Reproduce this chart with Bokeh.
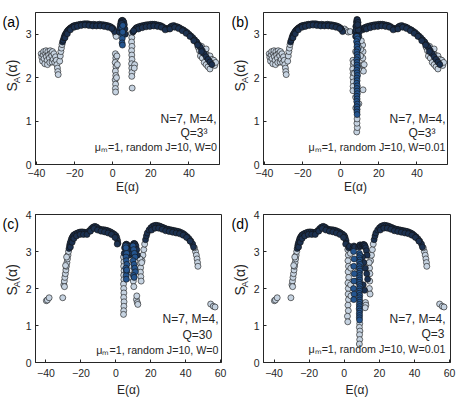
import math
from bokeh.plotting import figure
from bokeh.models import Range1d, FixedTicker, Label
from bokeh.layouts import row, column
from bokeh.embed import file_html
from bokeh.resources import INLINE

# ---------------- data (E(alpha), S_A(alpha)) ----------------
# shared by (a) and (b): N=7, M=4, Q=3^3
AB_LIGHT = [(-37.5,2.55),(-37.2,2.47),(-36.8,2.38),(-36.5,2.52),(-36.2,2.60),(-36.0,2.44),(-35.6,2.32),
            (-35.2,2.56),(-35.0,2.62),(-34.8,2.48),(-34.4,2.40),(-34.2,2.30),(-34.0,2.60),(-33.6,2.52),
            (-33.2,2.45),(-33.0,2.35),(-32.8,2.62),(-32.4,2.56),(-32.0,2.50),(-31.8,2.36),(-31.6,2.60),
            (-31.2,2.42),(-30.8,2.55),(-30.4,2.35),(-30.0,2.48),(-29.6,2.40),(-29.3,2.30),(-29.0,2.22),
            (-28.8,2.14),(-28.6,2.07),(-27.8,2.38),(-27.5,2.50),(-27.2,2.60),(-26.9,2.68),(-26.6,2.76),
            (44.0,2.82),(44.8,2.70),(45.5,2.62),(46.0,2.50),(46.6,2.72),(47.0,2.45),(47.5,2.58),
            (48.0,2.35),(48.5,2.62),(49.0,2.30),(49.0,2.66),(49.5,2.52),(50.0,2.25),(50.5,2.45),
            (51.0,2.20),(51.0,2.50),(51.5,2.38),(52.0,2.42),(52.5,2.30),(53.0,2.40),(53.5,2.28),(54.0,2.35)]
AB_DARK = [(-26.3,2.82),(-26.0,2.86),(-25.6,2.92),(-25.2,2.97),(-24.8,3.00),(-24.4,3.03),(-24.0,3.06),
           (-23.5,3.09),(-23.0,3.11),(-22.5,3.13),(-22.0,3.15),(-21.5,3.16),(-21.0,3.18),(-20.5,3.19),
           (-20.0,3.20),(-19.0,3.21),(-18.0,3.22),(-17.0,3.23),(-16.0,3.23),(-15.0,3.24),(-14.0,3.24),
           (-13.0,3.24),(-12.0,3.23),(-11.0,3.22),(-10.0,3.23),(-9.0,3.22),(-8.0,3.22),(-7.0,3.23),
           (-6.0,3.22),(-5.0,3.22),(-4.0,3.21),(-3.0,3.20),(-2.0,3.19),(-1.0,3.17),(0.0,3.14),
           (0.5,3.10),(1.0,3.06),(-25.0,2.92),(-23.8,3.01),(-22.2,3.10),(-20.2,3.16),(-18.5,3.18),
           (-16.5,3.20),(-14.5,3.21),(-12.5,3.20),(-10.5,3.19),(-8.5,3.19),(-6.5,3.19),(-4.5,3.18),
           (-2.5,3.16),(-0.5,3.13),
           (11.5,3.10),(12.0,3.13),(12.5,3.15),(13.0,3.16),(14.0,3.18),(15.0,3.19),(16.0,3.20),
           (17.0,3.21),(18.0,3.22),(19.0,3.22),(20.0,3.23),(21.0,3.23),(22.0,3.23),(23.0,3.22),
           (24.0,3.21),(25.0,3.20),(26.0,3.18),(27.0,3.15),(28.0,3.13),(28.8,3.12),(29.5,3.14),
           (30.3,3.17),(31.0,3.19),(32.0,3.20),(33.0,3.18),(34.0,3.17),(35.0,3.15),(36.0,3.12),
           (37.0,3.10),(38.0,3.07),(39.0,3.04),(40.0,3.00),(41.0,2.96),(42.0,2.92),(43.0,2.87),
           (44.0,2.82),(45.0,2.76),(46.0,2.70),(47.0,2.62),(48.0,2.55),(49.0,2.48),(50.0,2.42),
           (51.0,2.36),(52.0,2.30),(13.5,3.12),(15.5,3.15),(17.5,3.17),(19.5,3.18),(21.5,3.19),
           (23.5,3.18),(25.5,3.16),(27.5,3.10),(30.0,3.12),(32.5,3.16),(34.5,3.13),(36.5,3.08),
           (38.5,3.02),(40.5,2.95),(42.5,2.85),(44.5,2.75),(46.5,2.60)]

# (a) W=0 centre
A_LIGHT = [(1.5,3.00),(1.8,2.95),(1.4,2.55),(1.6,2.45),(1.3,2.35),(1.7,2.25),(1.4,2.15),(1.6,2.05),
           (1.3,1.95),(1.5,1.85),(1.4,1.75),(1.5,1.67),(2.2,2.50),(2.4,2.30),(2.0,2.00),(9.8,3.02),
           (10.0,2.92),(9.9,2.82),(10.1,2.72),(9.9,2.62),(10.0,2.52),(10.1,2.42),(9.9,2.32),(10.0,2.22),
           (10.1,2.12),(10.0,2.03),(10.2,1.76),(11.5,2.30),(11.3,2.22)]
A_DARK = [(3.5,3.05),(3.8,3.15),(4.0,3.22),(4.3,3.28),(4.6,3.31),(5.0,3.32),(5.4,3.31),(5.8,3.28),
          (6.1,3.22),(6.4,3.12),(6.6,3.00),(4.7,3.25),(10.6,3.05),(11.0,3.08)]
A_BLUE = [(4.8,3.15),(5.0,3.00),(5.0,2.90),(4.9,2.80),(5.1,2.75),(5.2,3.05),(5.3,3.20)]

# (b) W=0.01 centre
B_LIGHT = [(2.0,3.12),(3.0,3.08),(4.0,3.05),(5.0,3.06),(6.4,2.40),(6.6,2.30),(6.3,2.20),(6.5,2.10),
           (6.4,2.00),(6.6,1.90),(6.5,1.80),(6.4,1.70),(7.0,2.35),(7.2,2.10),(11.5,2.75),(11.7,2.60),
           (11.6,2.45),(11.8,2.30),(11.9,2.15),(12.3,2.30),(11.7,1.72),(10.8,2.85),(10.5,2.65),
           (10.4,2.50),(8.4,0.75),(8.7,0.85),(8.5,0.95),(8.6,1.05),(7.8,2.60),(7.8,1.55),(9.4,2.20),
           (9.5,1.40),(7.9,1.30),(9.3,2.70)]
B_DARK = [(7.6,3.05),(7.9,3.18),(8.2,3.28),(8.5,3.34),(8.8,3.33),(9.1,3.27),(9.4,3.17),(9.7,3.05),
          (8.0,3.10),(9.2,3.10),(8.3,3.20),(8.9,3.22),(7.8,2.95),(9.5,2.95)]
B_BLUE = [(8.5,2.95),(8.8,2.89),(8.3,2.83),(8.7,2.77),(8.5,2.71),(8.9,2.65),(8.4,2.59),(8.6,2.53),
          (8.8,2.47),(8.4,2.41),(8.6,2.35),(8.5,2.29),(8.7,2.23),(8.4,2.17),(8.6,2.11),(8.8,2.05),
          (8.5,1.99),(8.6,1.93),(8.4,1.87),(8.7,1.81),(8.5,1.75),(8.6,1.69),(8.7,1.63),(8.5,1.57),
          (8.6,1.51),(8.4,1.45),(8.7,1.39),(8.5,1.33),(8.6,1.27),(8.5,1.21),(8.6,1.15)]

# shared by (c) and (d): N=7, M=4, Q=30 / Q=3
CD_LIGHT = [(-39.8,1.67),(-39.2,1.69),(-38.2,1.75),(-30.4,1.75),(54.3,1.58),(55.8,1.52),(56.8,1.50),
            (-29.8,2.10),(-29.5,2.20),(-29.2,2.30),(-28.9,2.40),(-28.6,2.50),(-28.3,2.60),(-28.0,2.70),
            (-27.7,2.80),(-27.4,2.90),(-27.1,3.00),(-29.4,2.05),(-28.8,2.62),(-28.2,2.85),
            (15.0,2.75),(15.5,2.90),(16.0,3.05),(16.5,3.20),(45.6,3.00),(46.1,2.90),(46.5,2.80),
            (46.8,2.70),(47.0,2.60),(45.0,3.10)]
CD_DARK = [(-26.8,3.08),(-26.5,3.16),(-26.2,3.22),(-25.8,3.28),(-25.4,3.34),(-25.0,3.38),(-24.5,3.42),
           (-24.0,3.45),(-23.0,3.48),(-22.0,3.50),(-21.0,3.52),(-20.0,3.53),(-19.0,3.53),(-18.0,3.52),
           (-17.0,3.51),(-16.0,3.53),(-15.0,3.57),(-14.0,3.62),(-13.0,3.66),(-12.0,3.68),(-11.0,3.66),
           (-10.0,3.62),(-9.0,3.60),(-8.0,3.59),(-7.0,3.59),(-6.0,3.58),(-5.0,3.57),(-4.0,3.55),
           (-3.0,3.53),(-2.0,3.50),(-1.0,3.47),(0.0,3.43),(0.5,3.38),(1.0,3.30),(1.2,3.22),
           (-26.0,3.12),(-25.0,3.25),(-24.0,3.35),(-22.5,3.42),(-20.5,3.46),(-18.5,3.46),(-16.5,3.46),
           (-14.5,3.55),(-12.5,3.62),(-10.5,3.58),(-8.5,3.55),(-6.5,3.53),(-4.5,3.50),(-2.5,3.46),
           (-0.5,3.38),(0.8,3.20),
           (17.0,3.32),(17.5,3.42),(18.0,3.50),(19.0,3.58),(20.0,3.64),(21.0,3.68),(22.0,3.70),
           (23.0,3.71),(24.0,3.70),(25.0,3.69),(26.0,3.67),(27.0,3.65),(28.0,3.63),(29.0,3.61),
           (30.0,3.60),(31.0,3.59),(32.0,3.58),(33.0,3.57),(34.0,3.56),(35.0,3.55),(36.0,3.54),
           (37.0,3.52),(38.0,3.50),(39.0,3.47),(40.0,3.43),(41.0,3.39),(42.0,3.34),(43.0,3.28),
           (44.0,3.20),(20.5,3.58),(22.5,3.63),(24.5,3.63),(26.5,3.60),(28.5,3.56),(30.5,3.54),
           (32.5,3.52),(34.5,3.50),(36.5,3.48),(38.5,3.44),(40.5,3.38),(42.5,3.28),(44.5,3.12)]

# (c) W=0 centre
C_LIGHT = [(4.4,2.85),(4.6,2.72),(4.5,2.60),(4.7,2.48),(4.5,2.36),(4.6,2.24),(4.4,2.12),(4.5,2.00),
           (4.6,1.88),(4.5,1.76),(4.7,1.64),(4.6,1.52),(4.5,1.40),(4.4,1.30),(7.5,2.60),(7.6,2.48),
           (7.4,2.36),(7.5,2.30),(13.8,2.80),(14.0,2.68),(14.2,2.56),(14.1,2.44),(14.3,2.32),
           (14.5,2.20),(14.8,2.70),(11.8,1.70),(12.3,1.62),(12.6,1.57),(12.0,1.80),(10.0,2.20),(10.3,2.05)]
C_DARK = [(5.0,3.10),(5.5,3.18),(6.0,3.20),(6.5,3.18),(7.0,3.15),(7.5,3.05),(9.5,3.12),(10.0,3.20),
          (10.5,3.22),(11.0,3.20),(11.5,3.15),(12.0,3.05),(4.8,2.95),(7.7,2.90),(9.3,2.95),(12.3,2.90)]
C_BLUE = [(5.6,3.15),(5.9,3.05),(6.2,2.95),(5.8,2.85),(6.0,2.75),(6.3,2.65),(5.7,2.55),(6.1,2.45),
          (5.9,2.35),(6.0,2.25),(6.2,2.50),(5.8,3.10),(9.8,3.15),(10.2,3.05),(10.6,2.95),(11.0,2.85),
          (9.9,2.75),(10.4,2.65),(10.8,2.55),(11.2,2.45),(10.1,2.35),(10.5,2.30)]

# (d) W=0.01 centre
D_LIGHT = [(2.0,3.05),(2.3,2.90),(2.1,2.75),(2.4,2.60),(2.2,2.45),(2.5,2.30),(2.1,2.15),(2.3,2.00),
           (2.2,1.85),(2.4,1.70),(2.1,1.55),(2.3,1.40),(1.8,1.25),(2.0,1.10),(3.5,2.95),(3.7,2.55),
           (3.6,2.10),(3.8,1.80),(8.8,1.05),(8.6,0.95),(8.9,0.85),(8.7,0.75),(8.8,0.62),(8.6,0.50),
           (14.2,2.70),(14.4,2.55),(14.6,2.40),(14.5,2.20),(14.3,2.00),(14.7,1.85),(12.1,1.62),
           (12.3,1.55),(11.9,1.48),(6.8,2.20),(7.5,2.45)]
D_DARK = [(2.5,3.10),(3.0,3.14),(5.0,3.10),(5.5,3.15),(6.0,3.12),(8.2,3.12),(8.6,3.16),(9.0,3.18),
          (9.4,3.14),(10.2,3.15),(10.6,3.18),(11.0,3.19),(11.4,3.18),(11.8,3.15),(12.2,3.10),
          (12.6,3.02),(13.0,2.90),(10.4,2.85),(11.2,2.70),(12.0,2.55),(12.8,2.40),(13.3,2.25),
          (10.8,2.10),(11.6,1.95)]
D_BLUE = [(8.6,2.95),(8.9,2.89),(8.5,2.83),(8.8,2.77),(8.6,2.71),(9.0,2.65),(8.5,2.59),(8.7,2.53),
          (8.9,2.47),(8.5,2.41),(8.7,2.35),(8.6,2.29),(8.8,2.23),(8.5,2.17),(8.7,2.11),(8.9,2.05),
          (8.6,1.99),(8.7,1.93),(8.5,1.87),(8.8,1.81),(8.6,1.75),(8.7,1.69),(8.8,1.63),(8.6,1.57),
          (8.7,1.51),(8.5,1.45),(8.8,1.39),(8.6,1.33),(8.7,1.27),(8.6,1.21),(8.7,1.15),
          (5.3,3.00),(5.6,2.80),(5.4,2.60),(5.7,2.40),(5.5,2.20),(5.3,2.00),(5.6,1.85),(5.4,1.70)]

X_TICKS_AB = [-40, -20, 0, 20, 40]
X_TICKS_CD = [-40, -20, 0, 20, 40, 60]
Y_TICKS_AB = [0, 1, 2, 3]
Y_TICKS_CD = [0, 1, 2, 3, 4]

# ---------------- styling ----------------
FONT = "Liberation Sans"
TXT = "#262626"
FILL_LIGHT = "#c6d3e1"
FILL_DARK = "#1c3150"
FILL_BLUE = "#25558f"


def scatter(p, pts, fill):
    xs = [e for e, s in pts]
    ys = [s for e, s in pts]
    p.scatter(xs, ys, marker="circle", size=6, fill_color=fill,
              line_color="#111111", line_width=0.6)


def side_strip(h, tag, tag_x, tag_y, s_x, s_y):
    """Narrow strip left of a panel holding the panel tag and the rotated S_A(alpha) label."""
    p = figure(width=22, height=h, min_border=0, x_range=Range1d(0, 22), y_range=Range1d(0, h),
               x_axis_location=None, y_axis_location=None,
               output_backend="svg", toolbar_location=None, tools="")
    p.outline_line_color = None
    p.grid.visible = False
    p.add_layout(Label(x=tag_x, y=tag_y, text=tag, text_font=FONT, text_font_size="14px",
                       text_align="left", text_baseline="middle", text_color="black"))
    p.add_layout(Label(x=s_x, y=s_y, text="S", angle=math.pi / 2, text_font=FONT,
                       text_font_size="14px", text_align="left", text_baseline="middle",
                       text_color=TXT))
    p.add_layout(Label(x=s_x + 4.5, y=s_y + 11, text="A", angle=math.pi / 2, text_font=FONT,
                       text_font_size="9.5px", text_align="left", text_baseline="middle",
                       text_color=TXT))
    p.add_layout(Label(x=s_x, y=s_y + 19, text="(α)", angle=math.pi / 2, text_font=FONT,
                       text_font_size="14px", text_align="left", text_baseline="middle",
                       text_color=TXT))
    return p


def make_panel(w, h, bl, br, bt, bb, xr, yr, xticks, yticks, groups, texts,
               tick_standoff, label_standoff):
    p = figure(width=w, height=h, min_border_left=bl, min_border_right=br,
               min_border_top=bt, min_border_bottom=bb,
               x_range=Range1d(*xr), y_range=Range1d(*yr),
               output_backend="svg", toolbar_location=None, tools="")
    p.xgrid.visible = False
    p.ygrid.visible = False
    p.outline_line_color = TXT
    p.outline_line_width = 1
    p.outline_line_alpha = 1
    for ax in (p.xaxis[0], p.yaxis[0]):
        ax.axis_line_color = TXT
        ax.major_tick_line_color = TXT
        ax.major_tick_in = 3
        ax.major_tick_out = 0
        ax.minor_tick_line_color = None
        ax.major_label_text_font = FONT
        ax.major_label_text_font_size = "10.5px"
        ax.major_label_text_color = TXT
    p.xaxis.ticker = FixedTicker(ticks=xticks)
    p.yaxis.ticker = FixedTicker(ticks=yticks)
    p.xaxis.major_label_standoff = tick_standoff
    p.yaxis.major_label_standoff = 4
    p.xaxis.axis_label = "E(α)"
    p.xaxis.axis_label_text_font = FONT
    p.xaxis.axis_label_text_font_size = "12px"
    p.xaxis.axis_label_text_font_style = "normal"
    p.xaxis.axis_label_text_color = TXT
    p.xaxis.axis_label_standoff = label_standoff

    for pts, fill in groups:
        scatter(p, pts, fill)

    for txt, x, y, align, size in texts:
        p.add_layout(Label(x=x, y=y, x_units="screen", y_units="screen", text=txt,
                           text_font=FONT, text_font_size=size, text_align=align,
                           text_baseline="middle", text_color=TXT))
    return p


la = side_strip(200, "(a)", 2, 187.5, 11, 96)
pa = make_panel(206, 200, 13, 9, 12, 36, (-40.5, 56), (0, 3.5), X_TICKS_AB, Y_TICKS_AB,
                [(AB_LIGHT, FILL_LIGHT), (A_LIGHT, FILL_LIGHT), (AB_DARK, FILL_DARK),
                 (A_DARK, FILL_DARK), (A_BLUE, FILL_BLUE)],
                [("N=7, M=4,", 181, 46, "right", "12px"),
                 ("Q=3³", 145, 31.5, "left", "12px"),
                 ("μₘ=1, random J=10, W=0", 181.5, 17.5, "right", "10.7px")], 4, 0)

lb = side_strip(200, "(b)", 3, 187.5, 11.5, 96)
pb = make_panel(207, 200, 13, 10, 12, 36, (-40.5, 56), (0, 3.5), X_TICKS_AB, Y_TICKS_AB,
                [(AB_LIGHT, FILL_LIGHT), (B_LIGHT, FILL_LIGHT), (AB_DARK, FILL_DARK),
                 (B_DARK, FILL_DARK), (B_BLUE, FILL_BLUE)],
                [("N=7, M=4,", 182, 46, "right", "12px"),
                 ("Q=3³", 145, 32, "left", "12px"),
                 ("μₘ=1, random J=10, W=0.01", 182, 18, "right", "10.7px")], 4, 0)

lc = side_strip(203, "(c)", 2, 189.5, 11, 92)
pc = make_panel(206, 203, 13, 7, 14, 41, (-46, 60.5), (0, 4), X_TICKS_CD, Y_TICKS_CD,
                [(CD_LIGHT, FILL_LIGHT), (C_LIGHT, FILL_LIGHT), (CD_DARK, FILL_DARK),
                 (C_DARK, FILL_DARK), (C_BLUE, FILL_BLUE)],
                [("N=7, M=4,", 183, 44, "right", "12px"),
                 ("Q=30", 147, 27.5, "left", "12px"),
                 ("μₘ=1, random J=10, W=0", 183, 12.5, "right", "10.7px")], 6, 3)

ld = side_strip(203, "(d)", 3, 189.5, 11.5, 92)
pd_ = make_panel(207, 203, 13, 7, 14, 41, (-46, 60.5), (0, 4), X_TICKS_CD, Y_TICKS_CD,
                 [(CD_LIGHT, FILL_LIGHT), (D_LIGHT, FILL_LIGHT), (CD_DARK, FILL_DARK),
                  (D_DARK, FILL_DARK), (D_BLUE, FILL_BLUE)],
                 [("N=7, M=4,", 182, 43.5, "right", "12px"),
                  ("Q=3", 158, 28.5, "left", "12px"),
                  ("μₘ=1, random J=10, W=0.01", 182, 14, "right", "10.7px")], 6, 3)

layout = column(row(la, pa, lb, pb), row(lc, pc, ld, pd_))

open("out.html", "w").write(file_html(layout, INLINE))
